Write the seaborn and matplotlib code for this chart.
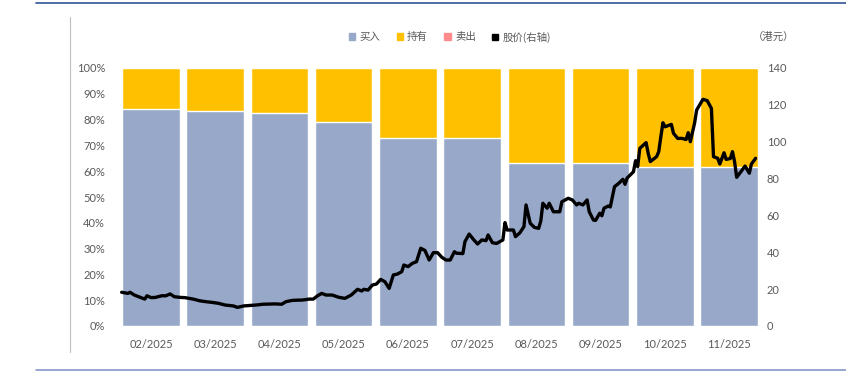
"""
Buy / hold / sell rating share by month, with share price on the right axis.
"""
import numpy as np
import pandas as pd
import matplotlib
matplotlib.use("Agg")
import matplotlib.pyplot as plt
from matplotlib.patches import Patch
from matplotlib.lines import Line2D
import seaborn as sns

# ---- data ----
months = ["02/2025", "03/2025", "04/2025", "05/2025", "06/2025",
          "07/2025", "08/2025", "09/2025", "10/2025", "11/2025"]
buy_pct = [84.1, 83.3, 82.6, 79.1, 72.9, 72.9, 63.2, 63.2, 61.6, 61.6]
hold_pct = [15.9, 16.7, 17.4, 20.9, 27.1, 27.1, 36.8, 36.8, 38.4, 38.4]
sell_pct = [0, 0, 0, 0, 0, 0, 0, 0, 0, 0]

# share price (HKD), day offset counted from 2025-02-01
price_day = [0, 3, 4, 6, 8, 11, 12, 14, 16, 19, 21, 23, 25, 28, 30, 34, 37, 40,
             43, 46, 49, 53, 55, 58, 64, 67, 73, 76, 78, 81, 86, 89, 91, 93, 95,
             97, 100, 103, 106, 109, 112, 114, 115, 117, 119, 121, 123, 125, 127,
             129, 131, 133, 134, 136, 138, 140, 142, 144, 146, 148, 150, 152, 154,
             156, 158, 159, 162, 163, 165, 167, 169, 171, 173, 174, 176, 178, 181,
             182, 183, 186, 187, 189, 191, 192, 194, 196, 198, 199, 200, 202, 203,
             205, 208, 209, 212, 214, 216, 217, 219, 221, 222, 224, 225, 227, 228,
             229, 231, 232, 234, 236, 238, 239, 240, 243, 244, 245, 246, 249, 250,
             251, 254, 255, 256, 257, 258, 261, 262, 264, 266, 268, 269, 270, 272,
             273, 276, 278, 280, 281, 283, 284, 286, 287, 289, 290, 291, 292, 294,
             296, 298, 299, 301]
price = [18.3, 17.7, 18.3, 16.8, 15.9, 14.6, 16.4, 15.4, 15.5, 16.4, 16.4, 17.4,
         15.9, 15.5, 15.4, 14.6, 13.7, 13.2, 12.8, 12.3, 11.4, 10.9, 10.1, 10.9,
         11.4, 11.8, 12.0, 11.8, 13.2, 13.9, 14.1, 14.6, 14.6, 16.4, 17.7, 16.8,
         16.8, 15.6, 15.0, 16.8, 19.9, 19.0, 19.9, 19.5, 22.2, 22.8, 25.3, 24.0,
         20.4, 27.7, 28.2, 29.5, 33.1, 32.2, 34.0, 34.9, 42.2, 41.0, 35.8, 39.8,
         39.8, 37.3, 35.8, 35.8, 40.3, 39.5, 39.3, 45.8, 49.9, 47.0, 44.5, 46.7,
         46.3, 49.4, 45.2, 44.8, 46.7, 56.1, 52.1, 52.1, 48.5, 50.5, 53.9, 65.7,
         55.7, 53.5, 53.0, 57.0, 66.6, 63.9, 66.6, 62.0, 62.0, 67.4, 69.3, 68.4,
         65.7, 66.6, 65.7, 68.4, 62.0, 57.5, 57.3, 61.2, 59.8, 63.9, 65.1, 64.6,
         75.6, 77.4, 79.6, 76.9, 80.3, 83.7, 89.7, 86.5, 96.4, 99.5, 93.7, 89.2,
         91.9, 94.6, 102.7, 110.3, 108.1, 109.4, 104.6, 101.8, 101.8, 101.2, 104.9,
         100.0, 110.0, 117.2, 123.0, 122.3, 118.1, 91.9, 91.0, 87.9, 94.0, 90.4,
         90.9, 94.6, 89.2, 80.7, 83.7, 86.8, 82.9, 87.9, 91.0]

legend_labels = ["买入", "持有", "卖出", "股价(右轴)"]

# ---- style ----
BLUE = "#97A8C9"
GOLD = "#FFC000"
PINK = "#FF8B8B"
GREY = "#595959"
CJK = ["Noto Sans CJK SC", "DejaVu Sans"]

sns.set_theme(style="white")
plt.rcParams["font.family"] = ["Lato", "DejaVu Sans"]

fig = plt.figure(figsize=(8.46, 3.75), dpi=100)
ax = fig.add_axes([118.9 / 846, 49 / 375, 642.2 / 846, 258 / 375])

df = pd.DataFrame({"month": months, "buy": buy_pct,
                   "total": np.add(buy_pct, hold_pct) + np.array(sell_pct)})
sns.barplot(data=df, x="month", y="total", color=GOLD, width=0.895,
            saturation=1, ax=ax)
sns.barplot(data=df, x="month", y="buy", color=BLUE, width=0.895,
            saturation=1, ax=ax)
ax.set_xlim(-0.5, 9.5)
ax.set_ylim(0, 100)
ax.set_yticks(range(0, 101, 10))
ax.set_yticklabels([f"{v}%" for v in range(0, 101, 10)])
ax.set_xlabel("")
ax.set_ylabel("")
ax.tick_params(axis="both", colors=GREY, labelsize=8, length=0)
ax.tick_params(axis="x", pad=9)
ax.tick_params(axis="y", pad=10)
for s in ax.spines.values():
    s.set_visible(False)

# price line on its own transparent axes (day axis, right scale)
ax2 = fig.add_axes(ax.get_position(), facecolor="none")
sns.lineplot(x=price_day, y=price, color="black", linewidth=2.4, ax=ax2)
ax2.set_xlim(-1.3, 303.6)
ax2.set_ylim(0, 140)
ax2.set_xticks([])
ax2.yaxis.tick_right()
ax2.set_yticks(range(0, 141, 20))
ax2.tick_params(axis="y", colors=GREY, labelsize=8, length=0, pad=4)
ax2.set_xlabel("")
ax2.set_ylabel("")
for s in ax2.spines.values():
    s.set_visible(False)

# legend
handles = [Patch(color=BLUE), Patch(color=GOLD), Patch(color=PINK),
           Line2D([], [], marker="s", color="black", linestyle="none", markersize=5)]
leg = fig.legend(handles, legend_labels, loc="center", bbox_to_anchor=(450 / 846, 1 - 37 / 375),
                 ncol=4, frameon=False, handlelength=0.6, handleheight=0.6,
                 handletextpad=0.4, columnspacing=1.6, prop={"family": CJK, "size": 7.5})
for t in leg.get_texts():
    t.set_color(GREY)
fig.text(774 / 846, 1 - 37 / 375, "（港元）", ha="center", va="center",
         fontsize=7.5, color=GREY, family=CJK)

# frame decorations
fig.add_artist(Line2D([36 / 846, 1], [1 - 3 / 375] * 2, color="#2F5597", linewidth=1.2))
fig.add_artist(Line2D([36 / 846, 1], [1 - 370 / 375] * 2, color="#8497C8", linewidth=1.2))
fig.add_artist(Line2D([70 / 846] * 2, [1 - 17 / 375, 1 - 352 / 375], color="#BFBFBF", linewidth=0.8))

fig.savefig("out.png", dpi=100)
